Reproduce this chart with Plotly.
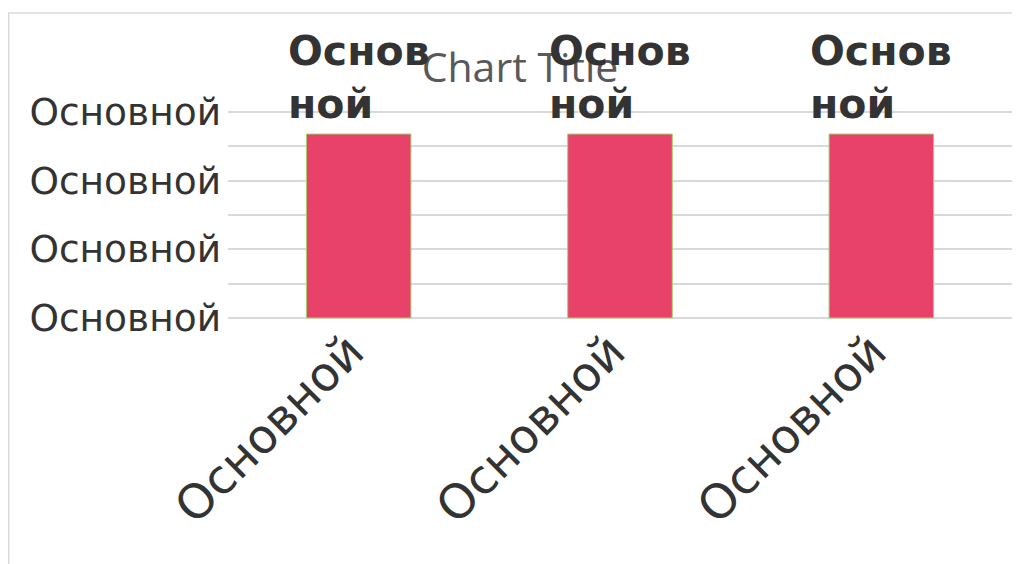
import plotly.graph_objects as go

categories = ["A", "B", "C"]
category_labels = ["Основной", "Основной", "Основной"]
values = [5.36, 5.36, 5.36]
data_labels = ["Основ<br>ной", "Основ<br>ной", "Основ<br>ной"]
y_tick_values = [0, 1, 2, 3, 4, 5, 6]
y_tick_labels = ["Основной", "", "Основной", "", "Основной", "", "Основной"]
title_text = "Chart Title"

# page body has an 8px margin, so the figure is drawn 8px right/down
W, H = 1012, 556
L, R, T, B = 220, 8, 102, 244
pw, ph = W - L - R, H - T - B
eps = 0.06

fig = go.Figure()
fig.add_trace(go.Bar(
    x=categories, y=values,
    marker=dict(color="#E8416A", line=dict(color="#9FD46A", width=1)),
    hoverinfo="skip",
))

for c, v, t in zip(categories, values, data_labels):
    fig.add_annotation(
        x=c, y=v, text=f"<b>{t}</b>", showarrow=False,
        xanchor="center", yanchor="bottom", align="left", yshift=4,
        font=dict(family="DejaVu Sans", size=41, color="#333333"),
    )

fig.update_layout(
    width=W, height=H,
    margin=dict(l=L, r=R, t=T, b=B),
    paper_bgcolor="white", plot_bgcolor="white",
    showlegend=False,
    bargap=0.6,
    title=dict(
        text=title_text, x=512 / W, xref="container", xanchor="center",
        y=1 - 59.5 / H, yref="container", yanchor="middle",
        font=dict(family="Open Sans", size=41, color="#595959"),
    ),
    xaxis=dict(
        tickmode="array", tickvals=categories, ticktext=category_labels,
        tickangle=-45, showgrid=False, zeroline=False, showline=False,
        ticklabelstandoff=-7, ticklabelshift=-9,
        tickfont=dict(family="DejaVu Sans", size=47.5, color="#333333"),
    ),
    yaxis=dict(
        range=[-eps, 6 + eps], tickmode="array", tickvals=y_tick_values, ticktext=y_tick_labels,
        showgrid=True, gridcolor="#D9D9D9", gridwidth=1.5,
        zeroline=False, showline=False, ticks="", ticklabelstandoff=6,
        tickfont=dict(family="DejaVu Sans", size=37.5, color="#333333"),
    ),
    shapes=[dict(
        type="rect", xref="paper", yref="paper",
        x0=(0.75 - L) / pw, x1=(1030 - L) / pw,
        y0=(H - 600 - B) / ph, y1=(H - B - 5) / ph,
        line=dict(color="#D9D9D9", width=1.5), fillcolor="rgba(0,0,0,0)", layer="below",
    )],
)

fig.write_html("out.html")
